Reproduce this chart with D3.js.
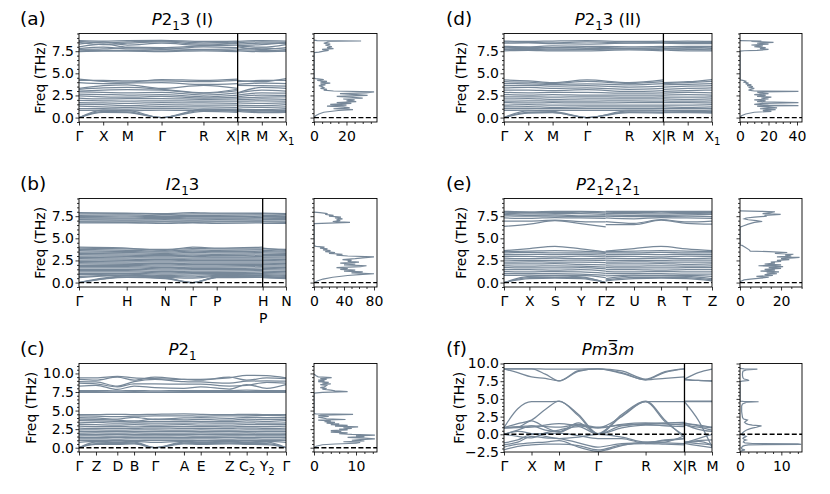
<!DOCTYPE html>
<html>
<head>
<meta charset="utf-8">
<script src="https://cdn.jsdelivr.net/npm/d3@7"></script>
<style>
  body { margin: 0; background: #fff; }
</style>
</head>
<body>
<svg id="chart" width="830" height="494"></svg>
<script>
// ---- k-path ticks ("_" marks a subscript) ----
const cubicTicks = [0, 0.5, 1, 1.707, 2.573, 3.28, 3.78, 4.28];
const cubicLabels = ["Γ", "X", "M", "Γ", "R", "X|R", "M", "X_1"];
const bccTicks = [0, 1, 1.803, 2.384, 2.887, 3.851, 4.34];
const bccLabels = ["Γ", "H", "N", "Γ", "P", "H\nP", "N"];
const monoTicks = [0, 0.82, 1.85, 2.66, 3.67, 5.07, 5.88, 7.26, 8.10, 9.07, 10.0];
const monoLabels = ["Γ", "Z", "D", "B", "Γ", "A", "E", "Z", "C_2", "Y_2", "Γ"];
const orthoTicks = [0, 1.22, 2.45, 3.69, 4.89, 6.25, 7.55, 8.78, 10.0];
const orthoLabels = ["Γ", "X", "S", "Y", "ΓZ", "U", "R", "T", "Z"];
const perovTicks = [0, 0.5, 1, 1.707, 2.573, 3.28, 3.78];
const perovLabels = ["Γ", "X", "M", "Γ", "R", "X|R", "M"];

const yTicks9 = [0, 2.5, 5, 7.5];
const yTicks11 = [0, 2.5, 5, 7.5, 10];
const yTicksF = [-2.5, 0, 2.5, 5, 7.5, 10];

// ---- (a) P2_1 3 (I): values at Γ X M Γ R X | R M X1 ----
const bandsA = [
  [8.70, 8.65, 8.70, 8.72, 8.60, 8.65, 8.60, 8.70, 8.65],
  [8.60, 8.45, 8.55, 8.65, 8.45, 8.55, 8.45, 8.55, 8.50],
  [8.50, 8.25, 8.40, 8.55, 8.30, 8.35, 8.30, 8.40, 8.35],
  [8.30, 8.55, 8.20, 8.40, 8.15, 8.50, 8.15, 8.25, 8.45],
  [8.00, 8.30, 7.95, 7.90, 8.10, 8.20, 8.10, 7.95, 8.25],
  [7.80, 7.95, 7.75, 7.70, 8.00, 7.90, 8.00, 7.70, 7.90],
  [7.70, 7.75, 7.90, 7.80, 7.70, 7.75, 7.70, 7.85, 7.70],
  [7.55, 7.60, 7.60, 7.55, 7.65, 7.55, 7.65, 7.60, 7.55],
  [7.45, 7.50, 7.50, 7.45, 7.55, 7.45, 7.55, 7.45, 7.50],
  [4.35, 4.10, 4.00, 4.30, 4.20, 4.35, 4.20, 4.05, 4.40],
  [4.20, 4.20, 4.15, 4.15, 4.05, 4.20, 4.05, 4.20, 4.20],
  [3.95, 3.85, 3.90, 3.95, 3.75, 3.85, 3.75, 3.90, 3.85],
  [3.30, 3.60, 3.70, 3.30, 3.65, 3.30, 3.65, 3.60, 3.55],
  [3.20, 3.35, 3.40, 3.20, 2.80, 3.20, 2.80, 3.40, 3.30],
  [3.00, 3.10, 3.15, 3.10, 2.75, 3.05, 2.75, 3.10, 3.00],
  [2.90, 2.85, 2.80, 2.85, 2.55, 2.80, 2.55, 2.80, 2.75],
  [2.65, 2.60, 2.55, 2.60, 2.35, 2.55, 2.35, 2.55, 2.50],
  [2.45, 2.35, 2.30, 2.40, 2.20, 2.30, 2.20, 2.30, 2.35],
  [2.20, 2.10, 2.15, 2.15, 2.05, 2.10, 2.05, 2.10, 2.05],
  [1.95, 1.90, 1.85, 1.90, 1.85, 1.85, 1.85, 1.90, 1.85],
  [1.70, 1.65, 1.60, 1.70, 1.65, 1.60, 1.65, 1.60, 1.65],
  [1.50, 1.45, 1.35, 1.45, 1.40, 1.40, 1.40, 1.35, 1.45],
  [1.30, 1.20, 1.15, 1.25, 1.20, 1.15, 1.20, 1.15, 1.20],
  [1.00, 1.00, 0.95, 1.05, 0.95, 0.95, 0.95, 0.90, 1.00],
  [0.80, 0.85, 0.75, 0.85, 0.80, 0.80, 0.80, 0.75, 0.80],
  [0.00, 0.85, 0.80, 0.00, 0.95, 0.85, 0.95, 0.80, 0.85],
  [0.00, 0.70, 0.65, 0.00, 0.85, 0.70, 0.85, 0.65, 0.70],
  [0.00, 0.60, 0.55, 0.00, 0.70, 0.60, 0.70, 0.55, 0.60],
];
const dosA = [
  [0, 0], [0.2, 1], [0.4, 3], [0.6, 6], [0.8, 15], [0.9, 24], [1.0, 12], [1.1, 22], [1.2, 18],
  [1.3, 8], [1.4, 20], [1.5, 10], [1.6, 23], [1.7, 14], [1.8, 26], [1.9, 20], [2.0, 25], [2.1, 18],
  [2.2, 30], [2.3, 22], [2.4, 14], [2.5, 33], [2.6, 26], [2.7, 16], [2.8, 32], [2.9, 37], [3.0, 12],
  [3.1, 6], [3.2, 8], [3.3, 4], [3.4, 6], [3.5, 5], [3.6, 3], [3.7, 7], [3.8, 4], [3.9, 10],
  [4.0, 4], [4.1, 8], [4.2, 2], [4.3, 6], [4.4, 1], [4.45, 0], [7.35, 0], [7.4, 3], [7.5, 6],
  [7.6, 9], [7.7, 5], [7.8, 12], [7.9, 8], [8.0, 11], [8.1, 9], [8.2, 7], [8.3, 10], [8.4, 6],
  [8.5, 8], [8.6, 10], [8.65, 29], [8.7, 2], [8.75, 0],
];

// ---- (b) I2_1 3: values at Γ H N Γ P H | P N ----
const bandsB = [
  [7.90, 7.85, 7.80, 7.90, 7.85, 7.85, 7.85, 7.80],
  [7.75, 7.80, 7.70, 7.75, 7.75, 7.80, 7.75, 7.70],
  [7.60, 7.65, 7.55, 7.60, 7.60, 7.65, 7.60, 7.55],
  [7.45, 7.50, 7.45, 7.45, 7.45, 7.50, 7.45, 7.45],
  [7.35, 7.30, 7.35, 7.30, 7.30, 7.35, 7.30, 7.35],
  [7.20, 7.20, 7.25, 7.20, 7.20, 7.20, 7.20, 7.25],
  [7.10, 7.05, 7.10, 7.05, 7.10, 7.05, 7.10, 7.10],
  [6.95, 6.95, 6.95, 6.95, 6.95, 6.95, 6.95, 6.95],
  [6.85, 6.80, 6.85, 6.80, 6.85, 6.85, 6.85, 6.80],
  [6.75, 6.75, 6.70, 6.75, 6.70, 6.75, 6.70, 6.70],
  [4.00, 3.90, 3.65, 4.00, 3.90, 4.00, 3.90, 3.65],
  [3.90, 3.80, 3.75, 3.85, 3.80, 3.80, 3.80, 3.75],
  [3.75, 3.65, 3.55, 3.70, 3.65, 3.70, 3.65, 3.55],
  [3.60, 3.50, 3.45, 3.55, 3.50, 3.55, 3.50, 3.45],
  [3.45, 3.40, 3.30, 3.40, 3.35, 3.40, 3.35, 3.30],
  [3.30, 3.25, 3.20, 3.25, 3.20, 3.25, 3.20, 3.20],
  [3.15, 3.10, 3.05, 3.10, 3.05, 3.10, 3.05, 3.05],
  [3.00, 2.95, 2.90, 2.95, 2.90, 2.95, 2.90, 2.90],
  [2.85, 2.80, 2.75, 2.80, 2.80, 2.80, 2.80, 2.75],
  [2.70, 2.65, 2.60, 2.65, 2.65, 2.65, 2.65, 2.60],
  [2.55, 2.50, 2.45, 2.50, 2.50, 2.50, 2.50, 2.45],
  [2.40, 2.35, 2.30, 2.35, 2.35, 2.35, 2.35, 2.30],
  [2.25, 2.20, 2.15, 2.20, 2.20, 2.20, 2.20, 2.15],
  [2.10, 2.05, 2.00, 2.05, 2.05, 2.05, 2.05, 2.00],
  [1.95, 1.95, 1.85, 1.90, 1.90, 1.95, 1.90, 1.85],
  [1.80, 1.80, 1.70, 1.75, 1.75, 1.80, 1.75, 1.70],
  [1.65, 1.65, 1.55, 1.60, 1.60, 1.65, 1.60, 1.55],
  [1.50, 1.50, 1.40, 1.45, 1.45, 1.50, 1.45, 1.40],
  [1.35, 1.35, 1.25, 1.30, 1.30, 1.35, 1.30, 1.25],
  [1.20, 1.20, 1.10, 1.15, 1.15, 1.20, 1.15, 1.10],
  [1.05, 1.05, 0.95, 1.00, 1.00, 1.05, 1.00, 0.95],
  [0.90, 0.95, 0.80, 0.85, 0.90, 0.95, 0.90, 0.80],
  [0.70, 0.85, 0.70, 0.65, 0.80, 0.85, 0.80, 0.70],
  [0.55, 0.80, 0.60, 0.50, 0.70, 0.80, 0.70, 0.60],
  [0.00, 0.75, 0.55, 0.00, 0.65, 0.75, 0.65, 0.55],
  [0.00, 0.65, 0.50, 0.00, 0.60, 0.65, 0.60, 0.50],
  [0.00, 0.60, 0.45, 0.00, 0.55, 0.60, 0.55, 0.45],
];
const dosB = [
  [0, 0], [0.2, 5], [0.4, 12], [0.6, 25], [0.8, 45], [0.9, 60], [1.0, 80], [1.1, 50], [1.2, 65],
  [1.3, 40], [1.4, 55], [1.5, 35], [1.6, 45], [1.7, 30], [1.8, 62], [1.9, 70], [2.0, 40], [2.1, 55],
  [2.2, 35], [2.3, 60], [2.4, 45], [2.5, 50], [2.6, 38], [2.7, 55], [2.8, 65], [2.9, 80], [3.0, 45],
  [3.1, 30], [3.2, 38], [3.3, 20], [3.4, 28], [3.5, 15], [3.6, 22], [3.7, 12], [3.8, 18], [3.9, 8],
  [4.0, 14], [4.1, 3], [4.15, 0], [6.65, 0], [6.7, 10], [6.8, 48], [6.9, 25], [7.0, 35], [7.1, 30],
  [7.2, 38], [7.3, 28], [7.4, 36], [7.5, 20], [7.6, 26], [7.7, 15], [7.8, 18], [7.9, 8], [7.95, 0],
];

// ---- (c) P2_1: values at Γ Z D B Γ A E Z C2 Y2 Γ ----
const bandsC = [
  [9.40, 9.40, 9.60, 9.40, 9.30, 9.20, 9.20, 9.40, 9.75, 9.70, 9.40],
  [9.20, 9.10, 9.50, 9.10, 9.50, 9.20, 9.10, 9.50, 9.10, 9.40, 9.30],
  [8.90, 8.85, 8.30, 8.90, 9.20, 8.90, 8.85, 8.70, 8.95, 9.00, 8.95],
  [8.70, 8.60, 8.20, 8.60, 8.60, 8.55, 8.55, 8.30, 8.40, 8.80, 8.70],
  [8.30, 8.40, 7.85, 8.30, 8.10, 8.00, 8.20, 7.90, 8.50, 8.00, 8.50],
  [7.70, 7.70, 7.65, 7.70, 7.65, 7.70, 7.70, 7.70, 7.75, 7.70, 7.70],
  [7.55, 7.55, 7.50, 7.55, 7.50, 7.55, 7.55, 7.55, 7.55, 7.55, 7.55],
  [7.45, 7.45, 7.45, 7.45, 7.45, 7.45, 7.45, 7.45, 7.45, 7.45, 7.45],
  [4.45, 4.45, 4.50, 4.45, 4.50, 4.55, 4.50, 4.45, 4.50, 4.45, 4.45],
  [4.30, 4.25, 4.20, 4.25, 4.30, 4.30, 4.25, 4.30, 4.30, 4.35, 4.30],
  [4.05, 4.00, 3.85, 4.10, 3.80, 4.00, 4.05, 3.95, 4.10, 4.05, 4.05],
  [3.85, 3.80, 3.70, 3.60, 3.85, 3.75, 3.80, 3.70, 3.85, 3.80, 3.85],
  [3.65, 3.60, 3.55, 3.45, 3.55, 3.55, 3.55, 3.50, 3.60, 3.55, 3.65],
  [3.35, 3.40, 3.30, 3.35, 3.30, 3.30, 3.35, 3.30, 3.35, 3.30, 3.35],
  [3.15, 3.10, 3.05, 3.10, 3.05, 3.10, 3.05, 3.05, 3.10, 3.10, 3.15],
  [2.90, 2.85, 2.85, 2.80, 2.85, 2.85, 2.85, 2.80, 2.85, 2.85, 2.90],
  [2.65, 2.60, 2.60, 2.60, 2.65, 2.60, 2.60, 2.60, 2.65, 2.60, 2.65],
  [2.40, 2.40, 2.35, 2.40, 2.40, 2.35, 2.40, 2.35, 2.40, 2.40, 2.40],
  [2.20, 2.15, 2.20, 2.15, 2.20, 2.20, 2.15, 2.20, 2.15, 2.20, 2.20],
  [1.95, 2.00, 1.95, 2.00, 1.95, 1.95, 2.00, 1.95, 2.00, 1.95, 1.95],
  [1.80, 1.75, 1.80, 1.75, 1.80, 1.75, 1.80, 1.75, 1.80, 1.75, 1.80],
  [1.60, 1.60, 1.55, 1.60, 1.60, 1.60, 1.55, 1.60, 1.60, 1.60, 1.60],
  [1.40, 1.35, 1.40, 1.40, 1.40, 1.35, 1.40, 1.40, 1.35, 1.40, 1.40],
  [1.20, 1.20, 1.15, 1.20, 1.20, 1.20, 1.20, 1.15, 1.20, 1.15, 1.20],
  [1.00, 1.00, 1.00, 0.95, 1.00, 1.00, 0.95, 1.00, 1.00, 1.00, 1.00],
  [0.70, 0.85, 0.80, 0.85, 0.70, 0.85, 0.80, 0.85, 0.80, 0.85, 0.70],
  [0.00, 0.75, 0.70, 0.75, 0.00, 0.75, 0.70, 0.75, 0.70, 0.75, 0.00],
  [0.00, 0.55, 0.55, 0.60, 0.00, 0.60, 0.55, 0.60, 0.55, 0.55, 0.00],
  [0.00, 0.45, 0.45, 0.50, 0.00, 0.50, 0.45, 0.50, 0.45, 0.40, 0.00],
];
const dosC = [
  [0, 0], [0.2, 0.5], [0.4, 2], [0.5, 5], [0.6, 10], [0.7, 11], [0.8, 7], [0.9, 12], [1.0, 9],
  [1.1, 11], [1.2, 14.5], [1.3, 12], [1.4, 8], [1.5, 12], [1.6, 10], [1.7, 14.5], [1.8, 9], [1.9, 6],
  [2.0, 8], [2.1, 4], [2.2, 6.5], [2.3, 4], [2.4, 8], [2.5, 6], [2.6, 9], [2.7, 7], [2.8, 10.5],
  [2.9, 5], [3.0, 8], [3.1, 4], [3.2, 6], [3.3, 3], [3.4, 5], [3.5, 2.5], [3.6, 4], [3.7, 1],
  [3.8, 7.5], [3.9, 3], [4.0, 2], [4.1, 1], [4.2, 3.5], [4.3, 1], [4.4, 2], [4.5, 9.3], [4.55, 0.5],
  [4.6, 0], [7.35, 0], [7.45, 2], [7.55, 8], [7.65, 5], [7.75, 4], [7.9, 2], [8.0, 3], [8.1, 1.5],
  [8.2, 2.5], [8.4, 3], [8.5, 1.5], [8.6, 4], [8.7, 2], [8.8, 3.5], [8.9, 1], [9.0, 2.5], [9.1, 1],
  [9.2, 3], [9.3, 1.5], [9.45, 4.2], [9.55, 1], [9.7, 0.5], [9.8, 0.3], [9.9, 0],
];

// ---- (d) P2_1 3 (II): values at Γ X M Γ R X | R M X1 ----
const bandsD = [
  [8.65, 8.60, 8.65, 8.70, 8.60, 8.65, 8.60, 8.65, 8.60],
  [8.55, 8.50, 8.45, 8.55, 8.45, 8.50, 8.45, 8.50, 8.50],
  [8.40, 8.45, 8.35, 8.30, 8.40, 8.40, 8.40, 8.35, 8.35],
  [8.05, 8.00, 8.10, 8.05, 8.00, 8.05, 8.00, 8.05, 8.05],
  [7.95, 7.90, 7.90, 7.95, 7.85, 7.90, 7.85, 7.90, 7.95],
  [7.85, 7.80, 7.75, 7.80, 7.80, 7.75, 7.80, 7.75, 7.80],
  [7.70, 7.70, 7.65, 7.70, 7.75, 7.65, 7.75, 7.70, 7.65],
  [7.55, 7.60, 7.55, 7.55, 7.65, 7.55, 7.65, 7.55, 7.55],
  [4.25, 4.15, 3.95, 4.25, 3.95, 4.25, 3.95, 4.05, 4.30],
  [4.05, 4.00, 3.85, 4.10, 3.85, 4.05, 3.85, 3.95, 4.10],
  [3.85, 3.80, 3.75, 3.80, 3.70, 3.85, 3.70, 3.75, 3.85],
  [3.60, 3.65, 3.55, 3.60, 3.45, 3.55, 3.45, 3.55, 3.60],
  [3.35, 3.40, 3.30, 3.35, 3.20, 3.30, 3.20, 3.30, 3.35],
  [3.10, 3.10, 3.05, 3.15, 2.95, 3.05, 2.95, 3.05, 3.10],
  [2.85, 2.80, 2.85, 2.85, 2.75, 2.80, 2.75, 2.85, 2.80],
  [2.60, 2.55, 2.60, 2.55, 2.55, 2.55, 2.55, 2.60, 2.55],
  [2.35, 2.35, 2.30, 2.35, 2.30, 2.35, 2.30, 2.30, 2.35],
  [2.10, 2.15, 2.05, 2.10, 2.10, 2.10, 2.10, 2.05, 2.10],
  [1.85, 1.90, 1.85, 1.85, 1.90, 1.85, 1.90, 1.85, 1.90],
  [1.70, 1.65, 1.70, 1.65, 1.70, 1.70, 1.70, 1.70, 1.65],
  [1.40, 1.45, 1.40, 1.40, 1.40, 1.40, 1.40, 1.40, 1.45],
  [1.20, 1.25, 1.15, 1.20, 1.20, 1.20, 1.20, 1.15, 1.20],
  [1.00, 1.05, 1.00, 1.00, 1.00, 1.05, 1.00, 1.00, 1.00],
  [0.80, 0.85, 0.80, 0.80, 0.85, 0.85, 0.85, 0.80, 0.85],
  [0.00, 0.75, 0.70, 0.00, 0.75, 0.75, 0.75, 0.70, 0.70],
  [0.00, 0.60, 0.60, 0.00, 0.65, 0.60, 0.65, 0.60, 0.60],
  [0.00, 0.50, 0.55, 0.00, 0.55, 0.50, 0.55, 0.55, 0.50],
];
const dosD = [
  [0, 0], [0.2, 1], [0.4, 4], [0.6, 10], [0.7, 22], [0.8, 16], [0.9, 25], [1.0, 14], [1.1, 26],
  [1.2, 18], [1.3, 12], [1.35, 41], [1.4, 20], [1.5, 10], [1.6, 16], [1.7, 41], [1.8, 12], [1.9, 18],
  [2.0, 10], [2.1, 20], [2.2, 15], [2.3, 22], [2.4, 12], [2.5, 18], [2.6, 10], [2.7, 20], [2.8, 14],
  [2.9, 12], [2.95, 41], [3.0, 10], [3.1, 6], [3.2, 8], [3.3, 10], [3.4, 6], [3.5, 9], [3.6, 5],
  [3.7, 8], [3.8, 4], [3.9, 6], [4.0, 3], [4.1, 4], [4.2, 2], [4.25, 0], [7.5, 0], [7.55, 3],
  [7.6, 12], [7.7, 20], [7.8, 14], [7.9, 18], [8.0, 10], [8.1, 16], [8.2, 8], [8.3, 20], [8.4, 12],
  [8.5, 23.5], [8.6, 8], [8.65, 15], [8.7, 0],
];

// ---- (e) P2_1 2_1 2_1: values at Γ X S Y Γ | Z U R T Z ----
const bandsE = [
  [8.05, 8.00, 8.05, 8.05, 8.00, 8.05, 8.05, 8.05, 8.05, 8.05],
  [7.95, 7.90, 7.90, 7.95, 7.85, 7.95, 7.90, 7.95, 7.90, 7.90],
  [7.85, 7.75, 7.80, 7.80, 7.70, 7.80, 7.80, 7.75, 7.80, 7.85],
  [7.70, 7.60, 7.65, 7.55, 7.55, 7.65, 7.60, 7.60, 7.65, 7.70],
  [7.55, 7.50, 7.50, 7.45, 7.45, 7.50, 7.45, 7.45, 7.50, 7.45],
  [7.30, 7.25, 7.35, 7.30, 7.25, 7.30, 7.20, 7.35, 7.30, 7.25],
  [6.95, 6.95, 7.05, 6.90, 6.85, 6.90, 6.70, 7.10, 6.85, 6.95],
  [6.35, 6.60, 7.00, 6.65, 6.30, 6.55, 6.55, 7.05, 6.70, 6.60],
  [3.60, 3.85, 4.10, 3.80, 3.45, 3.55, 3.85, 4.10, 3.80, 3.60],
  [3.50, 3.55, 3.60, 3.55, 3.40, 3.50, 3.55, 3.60, 3.55, 3.50],
  [3.35, 3.40, 3.35, 3.35, 3.30, 3.35, 3.35, 3.40, 3.35, 3.35],
  [3.15, 3.20, 3.15, 3.20, 3.10, 3.15, 3.20, 3.15, 3.20, 3.15],
  [2.95, 2.95, 2.90, 3.00, 2.90, 2.95, 2.95, 2.90, 3.00, 2.95],
  [2.75, 2.70, 2.75, 2.70, 2.70, 2.75, 2.70, 2.75, 2.70, 2.75],
  [2.55, 2.50, 2.50, 2.55, 2.50, 2.55, 2.50, 2.50, 2.55, 2.55],
  [2.30, 2.35, 2.30, 2.30, 2.25, 2.30, 2.35, 2.30, 2.30, 2.30],
  [2.10, 2.10, 2.15, 2.05, 2.00, 2.10, 2.10, 2.15, 2.05, 2.10],
  [1.90, 1.85, 1.90, 1.85, 1.75, 1.90, 1.85, 1.90, 1.85, 1.90],
  [1.70, 1.65, 1.65, 1.70, 1.55, 1.70, 1.65, 1.65, 1.70, 1.70],
  [1.45, 1.45, 1.40, 1.45, 1.30, 1.45, 1.45, 1.40, 1.45, 1.45],
  [1.25, 1.20, 1.25, 1.20, 1.05, 1.25, 1.20, 1.25, 1.20, 1.20],
  [1.00, 1.00, 1.00, 0.95, 0.80, 1.00, 1.00, 1.00, 0.95, 0.95],
  [0.80, 0.85, 0.80, 0.80, 0.55, 0.75, 0.85, 0.80, 0.80, 0.70],
  [0.00, 0.70, 0.75, 0.65, 0.00, 0.45, 0.75, 0.75, 0.70, 0.45],
  [0.00, 0.55, 0.60, 0.55, 0.00, 0.30, 0.60, 0.60, 0.55, 0.30],
  [0.00, 0.45, 0.50, 0.45, 0.00, 0.20, 0.45, 0.50, 0.45, 0.20],
];
const dosE = [
  [0, 0], [0.1, 0], [0.2, 1], [0.3, 2], [0.4, 5], [0.5, 10], [0.6, 14], [0.7, 8], [0.8, 16],
  [0.9, 12], [1.0, 18], [1.1, 13], [1.2, 19], [1.3, 10], [1.4, 17], [1.5, 12], [1.6, 20], [1.7, 14],
  [1.8, 21], [1.9, 9], [2.0, 20], [2.1, 12], [2.2, 17], [2.3, 15], [2.4, 20], [2.5, 18], [2.6, 24],
  [2.7, 20], [2.8, 26], [2.85, 29], [2.9, 18], [3.0, 25], [3.1, 22], [3.2, 26], [3.3, 17], [3.4, 23],
  [3.5, 14], [3.55, 5], [3.7, 4.5], [4.0, 2.5], [4.2, 1], [4.25, 0], [6.25, 0], [6.4, 1.5], [6.6, 4],
  [6.8, 7], [6.9, 10.8], [7.0, 8], [7.1, 4], [7.2, 2], [7.3, 3], [7.4, 7], [7.5, 13], [7.6, 12],
  [7.7, 19.8], [7.8, 11], [7.9, 15], [8.0, 17], [8.05, 10], [8.1, 0],
];

// ---- (f) Pm-3m: values at Γ · X · M · Γ · R · X | R · M ----
const bandsF = [
  [9.25, 9.25, 9.25, 9.22, 9.20, 9.22, 9.25, 8.95, 7.80, 8.85, 9.25, 7.80, 8.70, 9.20],
  [9.25, 8.70, 8.10, 7.90, 7.55, 8.90, 9.25, 8.60, 7.70, 7.90, 8.10, 7.70, 7.60, 7.55],
  [9.25, 9.25, 9.25, 8.50, 7.55, 9.00, 9.25, 8.70, 7.70, 8.75, 9.25, 7.75, 7.60, 7.50],
  [0.95, 3.60, 4.60, 4.60, 4.65, 2.80, 0.10, 2.80, 4.70, 2.00, -0.50, 4.60, 2.00, -1.80],
  [0.95, 1.50, 2.00, 3.50, 4.70, 2.60, 0.00, 2.60, 4.60, 1.80, -0.20, 4.60, 4.60, 4.60],
  [0.90, 0.95, 1.00, 1.30, 1.50, 1.20, 0.90, 2.50, 4.60, 4.60, 4.60, 4.70, 4.70, 4.70],
  [0.90, 1.00, 1.90, 1.00, 0.30, 1.30, 0.90, 1.40, 1.60, 1.50, 1.30, 1.60, 1.20, 0.90],
  [0.00, 0.60, 1.20, 0.60, 0.40, 1.60, 0.00, 1.20, 1.40, 1.20, 1.10, 1.40, 0.70, 0.40],
  [0.00, -0.30, -0.50, 0.20, 0.60, 1.10, 0.00, 0.90, 1.30, 1.30, 1.50, 1.30, 1.00, 0.60],
  [0.90, 1.10, 1.20, 1.10, 1.00, 1.40, 1.00, 1.30, 1.50, 1.60, 1.70, 1.50, 1.30, 1.00],
  [0.00, 0.40, 0.10, -0.30, -0.60, -0.40, 0.00, -0.40, -1.10, -0.90, -0.60, -1.10, -0.90, -0.80],
  [-1.20, -0.80, 0.00, 0.10, 0.15, -0.20, -0.60, -0.60, -1.30, -1.10, -0.20, -1.30, -1.00, -1.50],
  [-1.50, -1.10, -0.30, -0.50, -0.60, -1.20, -1.80, -1.30, -1.20, -0.80, -0.60, -1.20, -0.60, 0.00],
  [-1.80, -1.40, -1.20, -1.10, -0.90, -1.80, -2.40, -1.60, -1.10, -1.20, -1.30, -1.10, -1.30, -1.50],
  [-2.20, -1.70, -1.50, -1.40, -1.40, -1.60, -2.20, -1.50, -1.30, -1.40, -1.50, -1.30, -1.60, -1.90],
];
const dosF = [
  [-2.5, 0], [-2.4, 0.2], [-2.3, 0.5], [-2.2, 1.2], [-2.1, 0.5], [-2.0, 0.4], [-1.9, 0.3], [-1.8, 0.5],
  [-1.7, 0.6], [-1.6, 1.0], [-1.5, 2.0], [-1.42, 14.8], [-1.35, 14.0], [-1.3, 3], [-1.2, 1.2],
  [-1.1, 0.8], [-1.0, 0.9], [-0.9, 1.0], [-0.8, 1.5], [-0.7, 1.0], [-0.6, 0.7], [-0.5, 0.8],
  [-0.4, 1.2], [-0.3, 1.5], [-0.2, 1.0], [-0.1, 0.5], [0.0, 0.4], [0.1, 0.5], [0.2, 0.6], [0.3, 0.8],
  [0.4, 1.0], [0.5, 1.3], [0.6, 1.6], [0.7, 2.0], [0.8, 2.5], [0.9, 3.2], [1.0, 4.0], [1.1, 4.6],
  [1.2, 5.2], [1.3, 3.0], [1.4, 2.0], [1.5, 1.5], [1.6, 1.3], [1.7, 1.1], [1.8, 1.3], [1.9, 1.6],
  [2.0, 1.8], [2.1, 1.2], [2.2, 0.8], [2.4, 0.6], [2.8, 0.5], [3.2, 0.4], [3.6, 0.4], [4.0, 0.4],
  [4.3, 0.6], [4.5, 1.5], [4.6, 4.5], [4.65, 0.8], [4.7, 0], [7.45, 0], [7.5, 0.5], [7.6, 2.2],
  [7.7, 1.8], [7.8, 1.0], [8.0, 0.7], [8.3, 0.6], [8.6, 0.6], [8.9, 0.7], [9.1, 1.5], [9.2, 4.2],
  [9.25, 1.0], [9.3, 0],
];

// ---- layout ----
const columns = {
  left: { band: [79, 286], dos: [314, 377], tag: 20 },
  right: { band: [504, 712], dos: [740, 802], tag: 446 },
};
const rows = [[33.5, 122], [198.5, 287], [363.5, 452]];

// title pieces: [text, style] with style "i" italic, "s" subscript, "" upright
const panels = [
  { key: "a", tag: "(a)", title: [["P", "i"], ["2", ""], ["1", "s"], ["3 (I)", ""]], col: "left", row: 0,
    ticks: cubicTicks, labels: cubicLabels, parts: [[0, 5], [5, 7]], mid: false, divider: [5],
    ylim: [-0.5, 9.5], yticks: yTicks9, bands: bandsA, dos: dosA, dosMax: 38.8, dosTicks: [0, 20], dosMinor: 5, ylabelGap: 39.5 },
  { key: "b", tag: "(b)", title: [["I", "i"], ["2", ""], ["1", "s"], ["3", ""]], col: "left", row: 1,
    ticks: bccTicks, labels: bccLabels, parts: [[0, 5], [5, 6]], mid: false, divider: [5],
    ylim: [-0.5, 9.5], yticks: yTicks9, bands: bandsB, dos: dosB, dosMax: 84, dosTicks: [0, 40, 80], dosMinor: 10, ylabelGap: 39.5 },
  { key: "c", tag: "(c)", title: [["P", "i"], ["2", ""], ["1", "s"]], col: "left", row: 2,
    ticks: monoTicks, labels: monoLabels, parts: [[0, 10]], mid: false, divider: [],
    ylim: [-0.58, 11.34], yticks: yTicks11, bands: bandsC, dos: dosC, dosMax: 15, dosTicks: [0, 10], dosMinor: 2, ylabelGap: 48 },
  { key: "d", tag: "(d)", title: [["P", "i"], ["2", ""], ["1", "s"], ["3 (II)", ""]], col: "right", row: 0,
    ticks: cubicTicks, labels: cubicLabels, parts: [[0, 5], [5, 7]], mid: false, divider: [5],
    ylim: [-0.5, 9.5], yticks: yTicks9, bands: bandsD, dos: dosD, dosMax: 43.5, dosTicks: [0, 20, 40], dosMinor: 5, ylabelGap: 43 },
  { key: "e", tag: "(e)", title: [["P", "i"], ["2", ""], ["1", "s"], ["2", ""], ["1", "s"], ["2", ""], ["1", "s"]], col: "right", row: 1,
    ticks: orthoTicks, labels: orthoLabels, parts: [[0, 4], [4, 8]], mid: false, divider: [],
    ylim: [-0.5, 9.5], yticks: yTicks9, bands: bandsE, dos: dosE, dosMax: 30.2, dosTicks: [0, 20], dosMinor: 5, ylabelGap: 43 },
  { key: "f", tag: "(f)", title: [["Pm", "i"], ["3\u0305", ""], ["m", "i"]], col: "right", row: 2,
    ticks: perovTicks, labels: perovLabels, parts: [[0, 5], [5, 6]], mid: true, divider: [5],
    ylim: [-2.5, 10], yticks: yTicksF, bands: bandsF, dos: dosF, dosMax: 15, dosTicks: [0, 10], dosMinor: 2, ylabelGap: 45 },
];

const svg = d3.select("#chart");
const GREY = "#778899";
const FONT = "DejaVu Sans, sans-serif";
const FS = 14;
const fmt = (d) => d3.format(".1f")(d).replace("-", "−");

panels.forEach(drawPanel);

function kParts(p) {
  return p.parts.map(([a, b]) => {
    const ks = [];
    for (let i = a; i <= b; i++) {
      if (i > a && p.mid) ks.push((p.ticks[i - 1] + p.ticks[i]) / 2);
      ks.push(p.ticks[i]);
    }
    return ks;
  });
}

// write pieces into a text node; subscripts are smaller and lowered
function richText(node, pieces, size) {
  const shift = size * 0.28;
  let low = false;
  pieces.forEach(([t, style]) => {
    const ts = node.append("tspan").text(t);
    if (style === "i") ts.attr("font-style", "italic");
    if (style === "s") {
      ts.attr("font-size", size * 0.72);
      if (!low) { ts.attr("dy", shift); low = true; }
    } else if (low) {
      ts.attr("dy", -shift); low = false;
    }
  });
}

function styleAxis(g) {
  g.attr("font-size", FS).attr("font-family", FONT);
  g.select(".domain").remove();
  g.selectAll(".tick line").attr("stroke", "#000").attr("stroke-width", 0.8);
  g.selectAll(".tick text").attr("fill", "#000");
}

function minorValues(lo, hi, step, majors) {
  return d3.range(Math.ceil(lo / step - 1e-9) * step, hi + 1e-9, step)
    .filter((v) => !majors.some((m) => Math.abs(m - v) < 1e-9));
}

function drawPanel(p) {
  const col = columns[p.col];
  const [top, bottom] = rows[p.row];
  const x = d3.scaleLinear().domain([p.ticks[0], p.ticks[p.ticks.length - 1]]).range(col.band);
  const y = d3.scaleLinear().domain(p.ylim).range([bottom, top]);
  const xd = d3.scaleLinear().domain([0, p.dosMax]).range(col.dos);

  const clipBand = `clip-band-${p.key}`;
  const clipDos = `clip-dos-${p.key}`;
  const defs = svg.append("defs");
  defs.append("clipPath").attr("id", clipBand).append("rect")
    .attr("x", col.band[0]).attr("y", top).attr("width", col.band[1] - col.band[0]).attr("height", bottom - top);
  defs.append("clipPath").attr("id", clipDos).append("rect")
    .attr("x", col.dos[0]).attr("y", top).attr("width", col.dos[1] - col.dos[0]).attr("height", bottom - top);

  // bands
  const band = svg.append("g").attr("clip-path", `url(#${clipBand})`);
  const line = d3.line().x((d) => x(d[0])).y((d) => y(d[1])).curve(d3.curveMonotoneX);
  const parts = kParts(p);
  p.bands.forEach((values) => {
    let offset = 0;
    parts.forEach((ks) => {
      const pts = ks.map((k, i) => [k, values[offset + i]]);
      offset += ks.length;
      band.append("path").attr("d", line(pts))
        .attr("fill", "none").attr("stroke", GREY).attr("stroke-width", 1.25);
    });
  });
  band.append("line")
    .attr("x1", col.band[0]).attr("x2", col.band[1]).attr("y1", y(0)).attr("y2", y(0))
    .attr("stroke", "#000").attr("stroke-width", 1.4).attr("stroke-dasharray", "5,2.4");
  p.divider.forEach((i) => {
    svg.append("line").attr("x1", x(p.ticks[i])).attr("x2", x(p.ticks[i]))
      .attr("y1", top).attr("y2", bottom).attr("stroke", "#000").attr("stroke-width", 1.3);
  });

  // dos
  const dos = svg.append("g").attr("clip-path", `url(#${clipDos})`);
  dos.append("path")
    .attr("d", d3.line().x((d) => xd(d[1])).y((d) => y(d[0]))(p.dos))
    .attr("fill", "none").attr("stroke", GREY).attr("stroke-width", 1.2);
  dos.append("line")
    .attr("x1", col.dos[0]).attr("x2", col.dos[1]).attr("y1", y(0)).attr("y2", y(0))
    .attr("stroke", "#000").attr("stroke-width", 1.4).attr("stroke-dasharray", "5,2.4");

  // frames
  [col.band, col.dos].forEach(([x0, x1]) => {
    svg.append("rect").attr("x", x0).attr("y", top).attr("width", x1 - x0).attr("height", bottom - top)
      .attr("fill", "none").attr("stroke", "#000").attr("stroke-width", 0.9);
  });

  // y axes (band + dos)
  const minorY = minorValues(p.ylim[0], p.ylim[1], 0.5, p.yticks);
  svg.append("g").attr("transform", `translate(${col.band[0]},0)`)
    .call(d3.axisLeft(y).tickValues(p.yticks).tickFormat(fmt).tickSize(3.5).tickPadding(1.5))
    .call(styleAxis);
  [col.band[0], col.dos[0]].forEach((x0) => {
    svg.append("g").attr("transform", `translate(${x0},0)`)
      .call(d3.axisLeft(y).tickValues(minorY).tickFormat("").tickSize(2))
      .call(styleAxis);
  });
  svg.append("g").attr("transform", `translate(${col.dos[0]},0)`)
    .call(d3.axisLeft(y).tickValues(p.yticks).tickFormat("").tickSize(3.5))
    .call(styleAxis);

  // x axes
  const bx = svg.append("g").attr("transform", `translate(0,${bottom})`)
    .call(d3.axisBottom(x).tickValues(p.ticks).tickFormat("").tickSize(3.5))
    .call(styleAxis);
  bx.selectAll(".tick").each(function (d, i) {
    const label = p.labels[i];
    const txt = d3.select(this).append("text").attr("fill", "#000")
      .attr("y", 9.5).attr("dy", "0.71em").attr("text-anchor", "middle");
    if (label.includes("\n")) {
      const [a, b] = label.split("\n");
      txt.text(a);
      txt.append("tspan").attr("x", 0).attr("dy", "1.15em").text(b);
    } else if (label.includes("_")) {
      const [a, b] = label.split("_");
      richText(txt, [[a, ""], [b, "s"]], FS);
    } else {
      txt.text(label);
    }
  });
  svg.append("g").attr("transform", `translate(0,${bottom})`)
    .call(d3.axisBottom(xd).tickValues(p.dosTicks).tickFormat(d3.format("d")).tickSize(3.5).tickPadding(6))
    .call(styleAxis);
  svg.append("g").attr("transform", `translate(0,${bottom})`)
    .call(d3.axisBottom(xd).tickValues(minorValues(0, p.dosMax, p.dosMinor, p.dosTicks)).tickFormat("").tickSize(2))
    .call(styleAxis);

  // y label
  const cy = (top + bottom) / 2;
  svg.append("text")
    .attr("transform", `translate(${col.band[0] - p.ylabelGap},${cy}) rotate(-90)`)
    .attr("text-anchor", "middle").attr("dominant-baseline", "central")
    .attr("font-family", FONT).attr("font-size", FS).text("Freq (THz)");

  // title
  const title = svg.append("text")
    .attr("x", (col.band[0] + col.band[1]) / 2).attr("y", top - 8.5)
    .attr("text-anchor", "middle").attr("font-family", FONT).attr("font-size", 16.5);
  richText(title, p.title, 16.5);

  // panel tag
  svg.append("text").attr("x", col.tag).attr("y", top - 9)
    .attr("font-family", FONT).attr("font-size", 18.5).text(p.tag);
}
</script>
</body>
</html>
